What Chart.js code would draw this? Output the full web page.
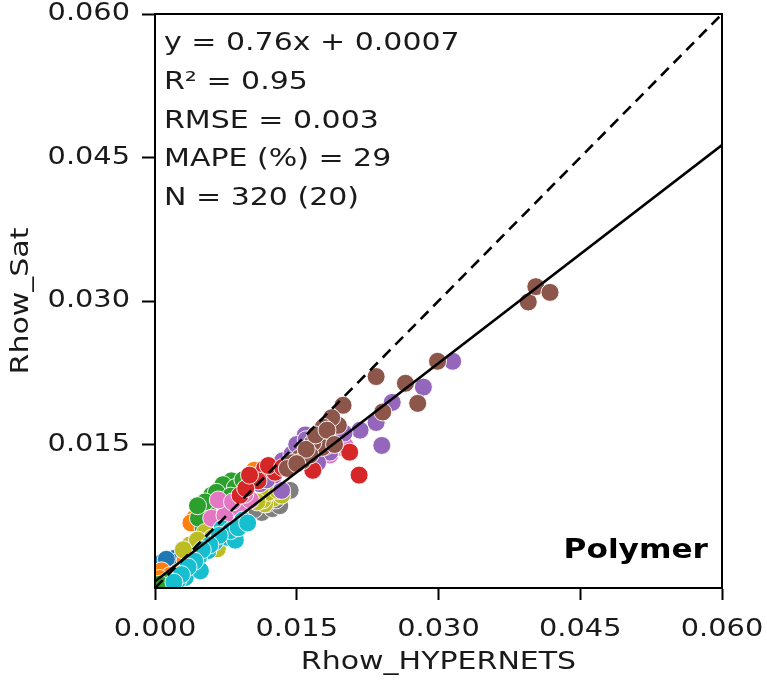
<!DOCTYPE html>
<html>
<head>
<meta charset="utf-8">
<script src="https://cdn.jsdelivr.net/npm/chart.js@4"></script>
<style>
  html, body { margin: 0; padding: 0; background: #fff; }
  #wrap { width: 767px; height: 681px; }
</style>
</head>
<body>
<div id="wrap"><canvas id="c" width="767" height="681"></canvas></div>
<script>
// ---- Data ----
const xTicks = [0.000, 0.015, 0.030, 0.045, 0.060];
const yTicks = [0.015, 0.030, 0.045, 0.060];
const axisMin = 0, axisMax = 0.06;
const fitSlope = 0.76, fitIntercept = 0.0007;
const statLines = ["y = 0.76x + 0.0007", "R\u00B2 = 0.95", "RMSE = 0.003", "MAPE (%) = 29", "N = 320 (20)"];
const sensorLabel = "Polymer";
const xTitle = "Rhow_HYPERNETS";
const yTitle = "Rhow_Sat";

const blueGroup   = [[0.0008,0.0027],[0.0021,0.0031],[0.0003,0.0016],[0.0014,0.0024],[0.0032,0.0018],[0.0010,0.0020],[0.0018,0.0022],[0.0025,0.0028],[0.0005,0.0012],[0.0012,0.0030]];
const orangeGroup = [[0.0105,0.0123],[0.0042,0.0073],[0.0023,0.0016],[0.0007,0.0018],[0.0016,0.0013],[0.0032,0.0029],[0.0005,0.0010],[0.0038,0.0068],[0.0110,0.0118]];
const greenGroup  = [[0.0088,0.0110],[0.0077,0.0102],[0.0060,0.0097],[0.0056,0.0084],[0.0051,0.0063],[0.0098,0.0115],[0.0081,0.0112],[0.0014,0.0008],[0.0005,0.0004],[0.0069,0.0104],[0.0046,0.0073],[0.0072,0.0108],[0.0085,0.0105],[0.0093,0.0113],[0.0065,0.0100],[0.0053,0.0090],[0.0100,0.0108],[0.0080,0.0096],[0.0045,0.0086]];
const redGroup    = [[0.0216,0.0118],[0.0206,0.0142],[0.0167,0.0123],[0.0116,0.0125],[0.0090,0.0097],[0.0109,0.0112],[0.0143,0.0128],[0.0127,0.0121],[0.0096,0.0104],[0.0120,0.0128],[0.0100,0.0118],[0.0135,0.0126],[0.0155,0.0135],[0.0180,0.0148]];
const purpleGroup = [[0.0315,0.0237],[0.0284,0.0210],[0.0251,0.0194],[0.0234,0.0173],[0.0217,0.0165],[0.0240,0.0149],[0.0159,0.0160],[0.0135,0.0133],[0.0111,0.0109],[0.0134,0.0102],[0.0122,0.0123],[0.0185,0.0142],[0.0172,0.0131],[0.0145,0.0140],[0.0150,0.0150],[0.0160,0.0155],[0.0126,0.0118],[0.0118,0.0113],[0.0192,0.0160],[0.0200,0.0162]];
const brownGroup  = [[0.0395,0.0299],[0.0403,0.0315],[0.0418,0.0309],[0.0299,0.0237],[0.0234,0.0221],[0.0265,0.0214],[0.0278,0.0193],[0.0241,0.0184],[0.0199,0.0191],[0.0194,0.0170],[0.0187,0.0178],[0.0178,0.0168],[0.0153,0.0136],[0.0156,0.0133],[0.0145,0.0131],[0.0177,0.0147],[0.0167,0.0152],[0.0164,0.0139],[0.0160,0.0145],[0.0170,0.0160],[0.0182,0.0165],[0.0140,0.0125],[0.0150,0.0130],[0.0190,0.0150]];
const pinkGroup   = [[0.0194,0.0147],[0.0201,0.0149],[0.0185,0.0139],[0.0076,0.0086],[0.0060,0.0073],[0.0074,0.0076],[0.0090,0.0083],[0.0153,0.0133],[0.0101,0.0092],[0.0067,0.0092],[0.0082,0.0090],[0.0095,0.0098],[0.0170,0.0140],[0.0178,0.0145],[0.0188,0.0150]];
const grayGroup   = [[0.0113,0.0079],[0.0124,0.0083],[0.0143,0.0102],[0.0132,0.0086],[0.0118,0.0088],[0.0128,0.0092],[0.0105,0.0082]];
const oliveGroup  = [[0.0125,0.0094],[0.0116,0.0088],[0.0066,0.0041],[0.0053,0.0058],[0.0037,0.0045],[0.0114,0.0092],[0.0134,0.0097],[0.0120,0.0100],[0.0130,0.0102],[0.0108,0.0090],[0.0060,0.0052],[0.0045,0.0050],[0.0030,0.0040]];
const cyanGroup   = [[0.0093,0.0071],[0.0076,0.0053],[0.0085,0.0050],[0.0056,0.0039],[0.0046,0.0032],[0.0039,0.0020],[0.0032,0.0011],[0.0063,0.0048],[0.0024,0.0008],[0.0048,0.0018],[0.0071,0.0062],[0.0080,0.0060],[0.0088,0.0063],[0.0068,0.0055],[0.0058,0.0045],[0.0050,0.0040],[0.0042,0.0028],[0.0035,0.0022],[0.0028,0.0014],[0.0020,0.0006],[0.0098,0.0068]];

// [points, colour, stacking order (lower = drawn on top)]
const groups = [
  [blueGroup, '#1f77b4', 10], [orangeGroup, '#ff7f0e', 9], [greenGroup, '#2ca02c', 8], [redGroup, '#d62728', 3],
  [purpleGroup, '#9467bd', 4], [brownGroup, '#8c564b', 2], [pinkGroup, '#e377c2', 5], [grayGroup, '#7f7f7f', 7],
  [oliveGroup, '#bcbd22', 6], [cyanGroup, '#17becf', 1]
];

// ---- Horizontal text stretch to match reference glyph proportions ----
const SX = 1.2;
(function () {
  const proto = CanvasRenderingContext2D.prototype;
  const orig = proto.fillText;
  proto.fillText = function (t, x, y, mw) {
    this.save();
    this.translate(x, y);
    this.scale(SX, 1);
    if (mw !== undefined) orig.call(this, t, 0, 0, mw / SX);
    else orig.call(this, t, 0, 0);
    this.restore();
  };
})();

const FONT = "'DejaVu Sans', sans-serif";
const TEXT = '#1a1a1a';

const datasets = [];
datasets.push({
  type: 'line', label: 'fit', order: 0,
  data: [{x: axisMin, y: fitSlope * axisMin + fitIntercept}, {x: axisMax, y: fitSlope * axisMax + fitIntercept}],
  borderColor: '#000', borderWidth: 2.6, pointRadius: 0, fill: false, tension: 0
});
datasets.push({
  type: 'line', label: '1:1', order: 0,
  data: [{x: axisMin, y: axisMin}, {x: axisMax, y: axisMax}],
  borderColor: '#000', borderWidth: 2.6, borderDash: [11, 7], pointRadius: 0, fill: false, tension: 0
});
groups.forEach(([arr, col, ord]) => {
  datasets.push({
    type: 'scatter', order: ord,
    data: arr.map(p => ({x: p[0], y: p[1]})),
    backgroundColor: col, borderColor: 'rgba(255,255,255,0.9)', borderWidth: 1,
    pointRadius: 9, pointHoverRadius: 9
  });
});

const framePlugin = {
  id: 'frame',
  afterDraw(chart) {
    const {ctx, chartArea: a} = chart;
    ctx.save();
    ctx.strokeStyle = '#000';
    ctx.lineWidth = 2;
    ctx.strokeRect(a.left, a.top, a.right - a.left, a.bottom - a.top);
    ctx.fillStyle = TEXT;
    ctx.font = "25px " + FONT;
    ctx.textAlign = 'left';
    ctx.textBaseline = 'alphabetic';
    statLines.forEach((s, i) => ctx.fillText(s, a.left + 9, a.top + 36 + i * 38.8));
    ctx.font = "bold 26px " + FONT;
    ctx.fillStyle = '#000';
    ctx.textAlign = 'right';
    ctx.fillText(sensorLabel, a.right - 14, a.bottom - 30);
    ctx.restore();
  }
};

new Chart(document.getElementById('c'), {
  type: 'scatter',
  data: { datasets },
  options: {
    responsive: false,
    devicePixelRatio: 1,
    animation: false,
    events: [],
    layout: { padding: { left: 0, right: 45, top: 14, bottom: 0 } },
    plugins: { legend: { display: false }, tooltip: { enabled: false } },
    scales: {
      x: {
        type: 'linear', min: axisMin, max: axisMax,
        afterBuildTicks: s => { s.ticks = xTicks.map(v => ({value: v})); },
        afterFit: s => { s.height = 93; s.paddingLeft = 0; s.paddingRight = 0; },
        grid: { display: true, drawOnChartArea: false, drawTicks: true, tickLength: 12, tickWidth: 2, tickColor: '#000' },
        border: { display: true, color: '#000', width: 2 },
        ticks: { font: { family: FONT, size: 24 }, color: TEXT, padding: 15, maxRotation: 0, autoSkip: false,
                 callback: v => Number(v).toFixed(3) },
        title: { display: true, text: xTitle, font: { family: FONT, size: 25 }, color: TEXT, padding: { top: 4, bottom: 4 } }
      },
      y: {
        type: 'linear', min: axisMin, max: axisMax,
        afterBuildTicks: s => { s.ticks = yTicks.map(v => ({value: v})); },
        afterFit: s => { s.width = 155; s.paddingTop = 0; s.paddingBottom = 0; },
        grid: { display: true, drawOnChartArea: false, drawTicks: true, tickLength: 13, tickWidth: 2, tickColor: '#000' },
        border: { display: true, color: '#000', width: 2 },
        ticks: { font: { family: FONT, size: 24 }, color: TEXT, padding: 12, autoSkip: false,
                 callback: v => Number(v).toFixed(3) },
        title: { display: true, text: yTitle, font: { family: FONT, size: 25 }, color: TEXT, padding: { top: 6, bottom: 4 } }
      }
    }
  },
  plugins: [framePlugin]
});
</script>
</body>
</html>
